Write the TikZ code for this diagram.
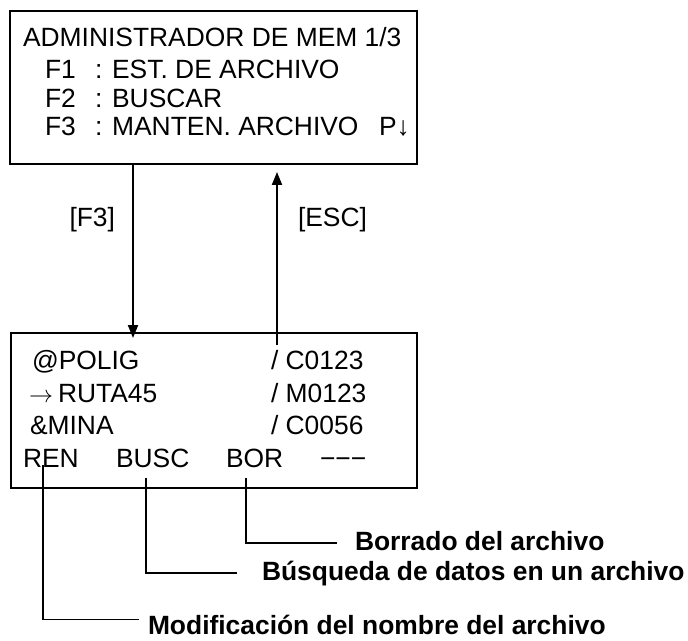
\documentclass[tikz,border=0pt]{standalone}
\usepackage{fontspec}
\setmainfont{Liberation Sans}
\usetikzlibrary{positioning,arrows.meta,calc}

\begin{document}
\begin{tikzpicture}[
  x=0.5pt, y=-0.5pt,
  every node/.style={inner sep=0pt, outer sep=0pt,
                     font=\fontsize{13.2}{15}\selectfont,
                     text height=0.72em, text depth=0pt},
  screen/.style={draw, line width=1.1pt},
  line/.style={anchor=base west},
  note/.style={anchor=base west, font=\fontsize{13.2}{15}\selectfont\bfseries},
  arr/.style={-{Triangle[width=5pt,length=6.5pt]}, line width=1pt},
  lead/.style={line width=0.85pt}
]
\useasboundingbox (0,0) rectangle (688,640);

% upper screen: memory manager menu
\node[screen, minimum width=203.5pt, minimum height=76.5pt] (mem) at (213.5,87.5) {};
\node[line] (title) at (23,47) {ADMINISTRADOR DE MEM 1/3};
\foreach \k/\y/\t in {1/79/EST. DE ARCHIVO, 2/108/BUSCAR, 3/136/MANTEN. ARCHIVO} {
  \node[line] (f\k)  at (45,\y) {F\k};
  \node[line] (d\k)  at (95,\y) {: \t};
}
\node[line] (pdown) at (379,136) {P↓};

% lower screen: file list and soft keys
\node[screen, minimum width=203pt, minimum height=77.5pt] (lst) at (214,410.5) {};
\foreach \n/\x/\y/\t/\c in {pol/32/369/@POLIG/C0123,
                            rut/29/402/{$\rightarrow$\kern2.5pt RUTA45}/M0123,
                            min/30/434/\&MINA/C0056} {
  \node[line] (\n)  at (\x,\y) {\t};
  \node[line] (\n c) at (271,\y) {/ \c};
}
\foreach \n/\x/\t in {ren/23/REN, busc/116/BUSC, bor/226/BOR, none/320/−−−}
  \node[line] (\n) at (\x,467) {\t};

% keys between the screens
\coordinate (xdown) at (133,0);
\coordinate (xup)   at (277,0);
\draw[arr, shorten >=-2.5pt] (mem.south -| xdown) -- (lst.north -| xdown);
\draw[arr, shorten >=4pt] ($(lst.north -| xup)+(0,12)$) -- (mem.south -| xup);
\node[line, anchor=base east] (kf3)  at (115,227) {[F3]};
\node[line]                   (kesc) at (298,227) {[ESC]};

% what each soft key does
\node[note] (lbor)  at (355,550) {Borrado del archivo};
\node[note] (lbusc) at (262,580) {Búsqueda de datos en un archivo};
\node[note] (lren)  at (148,634) {Modificación del nombre del archivo};
\draw[lead] ([xshift=10pt, yshift=1pt]ren.base west)     |- ([xshift=-4.5pt]lren.north west);
\draw[lead] ([xshift=15pt, yshift=-5.5pt]busc.base west) |- ([xshift=-12.5pt]lbusc.west);
\draw[lead] ([xshift=10pt, yshift=-5.5pt]bor.base west)  |- ([xshift=-9pt]lbor.west);

\end{tikzpicture}
\end{document}
